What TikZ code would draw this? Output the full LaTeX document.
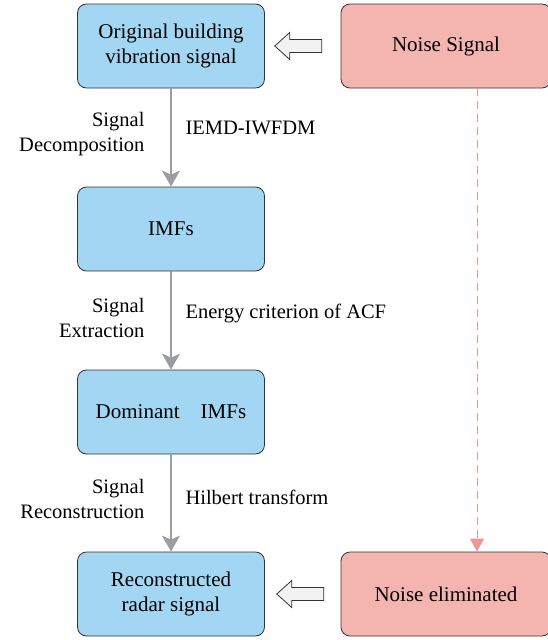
\documentclass[tikz,border=0pt]{standalone}
\usepackage{fontspec}
\setmainfont{Liberation Serif}
\usetikzlibrary{arrows.meta,calc}
\definecolor{boxblue}{RGB}{163,214,242}
\definecolor{boxred}{RGB}{244,180,175}
\definecolor{flowgray}{RGB}{155,157,162}
\definecolor{dashred}{RGB}{238,150,145}
\tikzset{
  bluebox/.style={draw=black!80, fill=boxblue, rounded corners=9pt, line width=0.8pt,
    minimum width=187pt, minimum height=84pt, align=center, font=\fontsize{21}{25.5}\selectfont},
  redbox/.style={draw=black!80, fill=boxred, rounded corners=9pt, line width=0.8pt,
    minimum width=210pt, minimum height=84pt, align=center, font=\fontsize{21}{25.5}\selectfont},
  flow/.style={flowgray, line width=1.3pt, -{Stealth[width=18pt,length=16pt,inset=4pt]}},
  hollow/.style={draw=black!80, fill=black!5, line width=0.8pt, line join=miter},
  steplabel/.style={anchor=east, align=right, font=\fontsize{20.5}{25}\selectfont},
  methodlabel/.style={anchor=west, font=\fontsize{20.5}{25}\selectfont}
}
\begin{document}
\begin{tikzpicture}[x=1pt,y=-1pt]
  \useasboundingbox (0,0) rectangle (547,640);
  \def\cx{171} % centre of the left column

  \node[bluebox] (orig) at (\cx,46) {Original building\\vibration signal};
  \node[bluebox] (imfs) at (\cx,229) {IMFs};
  \node[bluebox] (dom) at (\cx,412) {Dominant\quad IMFs};
  \node[bluebox] (recon) at (\cx,594) {Reconstructed\\radar signal};

  \node[redbox] (noise) at (446,46) {Noise Signal};
  \node[redbox] (elim) at (446,594) {Noise eliminated};

  \draw[flow] (orig) -- (imfs);
  \draw[flow] (imfs) -- (dom);
  \draw[flow] (dom) -- (recon);

  \node[steplabel] (lab1) at (148,134) {Signal\\Decomposition};
  \node[methodlabel] (met1) at (182,128) {IEMD-IWFDM};
  \node[steplabel] (lab2) at (148,318) {Signal\\Extraction};
  \node[methodlabel] (met2) at (182,313) {Energy criterion of ACF};
  \node[steplabel] (lab3) at (148,499) {Signal\\Reconstruction};
  \node[methodlabel] (met3) at (182,497) {Hilbert transform};

  % hollow arrows into the left column
  \coordinate (in1) at ($(orig.east)!0.5!(noise.west)+(-4,0)$);
  \coordinate (in2) at ($(recon.east)!0.5!(elim.west)+(-2,0)$);
  \foreach \c in {in1,in2}
    \draw[hollow] (\c) ++(-24,0) -- ++(15,-13.5) -- ++(0,7) -- ++(32,0) -- ++(0,13)
      -- ++(-32,0) -- ++(0,7) -- cycle;

  \draw[dashred, line width=0.9pt, dash pattern=on 8pt off 5pt, -{Triangle[width=14pt,length=13pt]}]
    ([xshift=31pt]noise.south) -- ([xshift=31pt]elim.north);
\end{tikzpicture}
\end{document}
